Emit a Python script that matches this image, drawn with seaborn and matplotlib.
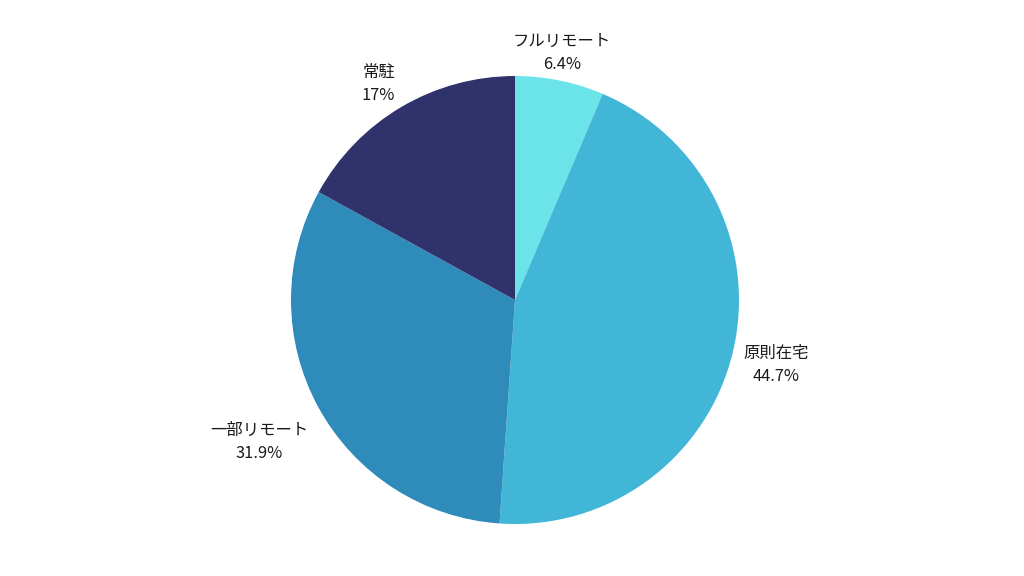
import numpy as np
import matplotlib.pyplot as plt
import seaborn as sns

# 勤務形態の割合
categories = ['フルリモート', '原則在宅', '一部リモート', '常駐']
shares = [6.4, 44.7, 31.9, 17.0]
share_labels = ['6.4%', '44.7%', '31.9%', '17%']
colors = ['#6AE4E9', '#42B6D6', '#2E8BBA', '#30336B']

sns.set_theme(style='white')
plt.rcParams['font.family'] = ['Noto Sans CJK JP', 'DejaVu Sans']

fig = plt.figure(figsize=(10.24, 5.76), dpi=100)
# pie centre at (515, 300) px, radius 224 px
ax = fig.add_axes([(515 - 224) / 1024, (276 - 224) / 576, 448 / 1024, 448 / 576])

wedges, _ = ax.pie(shares, colors=sns.color_palette(colors), startangle=90,
                   counterclock=False, radius=1,
                   wedgeprops=dict(linewidth=0))
ax.set_xlim(-1, 1)
ax.set_ylim(-1, 1)
ax.set_aspect('equal')
ax.axis('off')

for w, cat, lab in zip(wedges, categories, share_labels):
    ang = np.deg2rad((w.theta1 + w.theta2) / 2)
    dx, dy = np.cos(ang), np.sin(ang)
    ha = 'center' if abs(dx) < 0.45 else ('left' if dx > 0 else 'right')
    va = 'center' if abs(dy) < 0.4 else ('bottom' if dy > 0 else 'top')
    ax.annotate(f'{cat}\n{lab}', xy=(1.05 * dx, 1.05 * dy),
                xytext=(0, -(2 + 8 * abs(dx)) * 0.72), textcoords='offset points',
                ha=ha, va=va, multialignment='center', fontsize=11.8,
                color='#1a1a1a', linespacing=1.45, annotation_clip=False)

fig.savefig('out.png', dpi=100, facecolor='white')
